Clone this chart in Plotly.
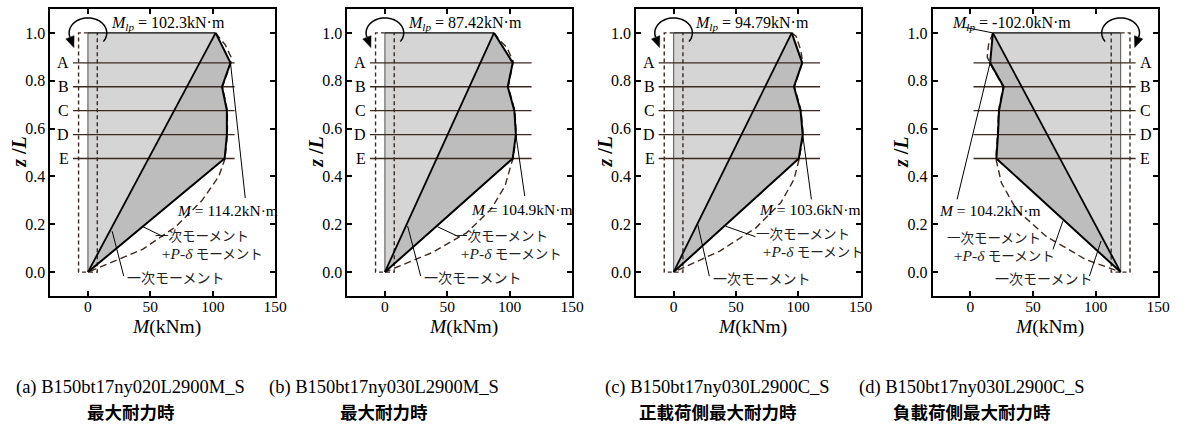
import numpy as np
import plotly.graph_objects as go

W, H = 1187, 432

# ---------------------------------------------------------------- data
SECTION_Z = [0.875, 0.775, 0.675, 0.575, 0.475]
SECTION_NAMES = ["A", "B", "C", "D", "E"]
X_TICKS = [0, 50, 100, 150]
Y_TICKS = [0.0, 0.2, 0.4, 0.6, 0.8, 1.0]

# end moment at the loaded end (z/L = 1), kN·m
MLP = [102.3, 87.42, 94.79, -102.0]

# moment evaluated at gauge sections A-E, kN·m
M_SEC_A = [114.2, 107.4, 111.3, 111.3, 109.5]
M_SEC_B = [102.4, 98.4, 103.7, 104.9, 102.4]
M_SEC_C = [103.2, 96.6, 101.9, 103.6, 100.5]
M_SEC_D = [-104.2, -93.4, -97.1, -97.9, -99.2]
M_SEC = [M_SEC_A, M_SEC_B, M_SEC_C, M_SEC_D]

# section holding the peak moment in each specimen
PEAK_SECTION = [0, 3, 3, 0]

# primary moment + P-delta moment (dashed curve)
PD_Z_A = [1.0, 0.95, 0.90, 0.875, 0.775, 0.675, 0.575, 0.475, 0.40, 0.30, 0.19, 0.095, 0.0]
PD_M_A = [102.3, 110.0, 114.6, 114.5, 107.8, 111.7, 111.7, 109.9, 104.8, 91.5, 70.4, 43.8, 0.0]
PD_Z_B = [1.0, 0.979, 0.937, 0.88, 0.775, 0.675, 0.575, 0.475, 0.457, 0.359, 0.262, 0.164, 0.081, 0.0]
PD_M_B = [87.42, 90.5, 97.9, 102.8, 98.8, 104.1, 105.3, 102.8, 101.5, 96.2, 84.8, 65.4, 37.6, 0.0]
PD_Z_C = [1.0, 0.985, 0.93, 0.88, 0.775, 0.675, 0.575, 0.475, 0.387, 0.29, 0.185, 0.088, 0.0]
PD_M_C = [94.79, 98.4, 101.9, 103.6, 97.0, 102.3, 104.0, 100.9, 96.6, 86.0, 66.1, 37.1, 0.0]
PD_Z_D = [1.0, 0.95, 0.90, 0.875, 0.775, 0.675, 0.575, 0.475, 0.373, 0.262, 0.15, 0.053, 0.0]
PD_M_D = [-102.0, -105.5, -106.5, -104.6, -93.8, -97.5, -98.3, -99.6, -95.2, -83.3, -59.6, -28.0, 0.0]
PD_Z = [PD_Z_A, PD_Z_B, PD_Z_C, PD_Z_D]
PD_M = [PD_M_A, PD_M_B, PD_M_C, PD_M_D]

# half width of the dashed band around the moment origin, kN·m
BAND = 7.5

PANEL_TAGS = ["(a)", "(b)", "(c)", "(d)"]
SPECIMENS = ["B150bt17ny020L2900M_S", "B150bt17ny030L2900M_S",
             "B150bt17ny030L2900C_S", "B150bt17ny030L2900C_S"]
STATES = ["最大耐力時", "最大耐力時", "正載荷側最大耐力時", "負載荷側最大耐力時"]

# ---------------------------------------------------------------- layout
FRAME_X = [(51, 278), (351, 578), (642.7, 869.3), (942.3, 1170)]
FRAME_TOP, FRAME_BOTTOM = 9, 296
X_RANGE = [-30, 150]
Y_RANGE = [-0.1, 1.1]
SX = (FRAME_X[0][1] - FRAME_X[0][0]) / (X_RANGE[1] - X_RANGE[0])   # px per kN·m
SY = (FRAME_BOTTOM - FRAME_TOP) / (Y_RANGE[1] - Y_RANGE[0])        # px per z/L

# placement of labels and leaders (plot coordinates)
POS = [
    dict(base=0, side=1, mlp_text=(16.8, 1.041), mlp_leader=None,
         max_end=(126, 0.31), max_text=(69.5, 0.257),
         pd_leader=((43.9, 0.19), (60.4, 0.148)), pd_t=(52.5, 0.112),
         pr_leader=((19.4, 0.171), (28.7, -0.017)), pr_t=(30, -0.022),
         cap_x=132),
    dict(base=0, side=1, mlp_text=(16.8, 1.041), mlp_leader=None,
         max_end=(112, 0.318), max_text=(67, 0.262),
         pd_leader=((42, 0.19), (59.1, 0.148)), pd_t=(53.8, 0.11),
         pr_leader=((18.2, 0.192), (28.7, -0.017)), pr_t=(30, -0.021),
         cap_x=388),
    dict(base=0, side=1, mlp_text=(15.5, 1.041), mlp_leader=None,
         max_end=(110.6, 0.304), max_text=(67, 0.262),
         pd_leader=((41.6, 0.192), (65.7, 0.148)), pd_t=(64.4, 0.12),
         pr_leader=((19.4, 0.199), (28.7, -0.017)), pr_t=(30, -0.023),
         cap_x=725),
    dict(base=120, side=-1, mlp_text=(-15.9, 1.041), mlp_leader=(-4.0, 1.023),
         max_end=(-10.6, 0.304), max_text=(-26.5, 0.258),
         pd_leader=((73.9, 0.213), (66.0, 0.095)), pd_t=(-19.9, 0.102),
         pr_leader=((104.4, 0.13), (95.1, -0.017)), pr_t=(18.4, -0.023),
         cap_x=982),
]

SERIF = "Liberation Serif"
SERIF_CJK = "Liberation Serif, Noto Sans CJK JP"
CJK = "Noto Sans CJK JP"
LIGHT = "#d5d5d5"
DARK = "#bdbdbd"
BROWN = "#3b2a22"


def fmt(v):
    return f"{v:.1f}" if abs(v) >= 100 else f"{v:.2f}"


fig = go.Figure()
shapes, annotations = [], []


def px_x(p):
    return p / W


def px_y(p):
    return 1 - p / H


for i in range(4):
    xa, ya = ("x", "y") if i == 0 else (f"x{i+1}", f"y{i+1}")
    cfg = POS[i]
    b, s = cfg["base"], cfg["side"]
    mlp = MLP[i]
    msec = M_SEC[i]
    top_x = b + mlp
    sec_x = [b + m for m in msec]

    # shaded areas: left of primary moment line, and between primary and measured
    fig.add_trace(go.Scatter(x=[b, b, top_x, b], y=[0, 1, 1, 0], mode="lines",
                             fill="toself", fillcolor=LIGHT, line=dict(width=0),
                             xaxis=xa, yaxis=ya, hoverinfo="skip"))
    fig.add_trace(go.Scatter(x=[b, top_x] + sec_x + [b], y=[0, 1] + SECTION_Z + [0],
                             mode="lines", fill="toself", fillcolor=DARK,
                             line=dict(width=0), xaxis=xa, yaxis=ya, hoverinfo="skip"))

    # dashed band about the moment origin
    fig.add_trace(go.Scatter(x=[b, b - s * BAND, b - s * BAND, b + s * BAND, b + s * BAND],
                             y=[1, 1, 0, 0, 1], mode="lines",
                             line=dict(color=BROWN, width=1.4, dash="4px,3px"),
                             xaxis=xa, yaxis=ya, hoverinfo="skip"))

    # outline of the origin line and top edge
    fig.add_trace(go.Scatter(x=[b, b], y=[0, 1], mode="lines",
                             line=dict(color="#6a6a6a", width=1.2),
                             xaxis=xa, yaxis=ya, hoverinfo="skip"))
    fig.add_trace(go.Scatter(x=[b, top_x], y=[1, 1], mode="lines",
                             line=dict(color="black", width=1.2),
                             xaxis=xa, yaxis=ya, hoverinfo="skip"))

    # primary + P-delta moment
    fig.add_trace(go.Scatter(x=[b + m for m in PD_M[i]], y=PD_Z[i], mode="lines",
                             line=dict(color=BROWN, width=1.4, dash="7px,4px"),
                             xaxis=xa, yaxis=ya, hoverinfo="skip"))

    # gauge section lines with labels
    for zc, nm in zip(SECTION_Z, SECTION_NAMES):
        fig.add_trace(go.Scatter(x=[b - s * 12, b + s * 117.5], y=[zc, zc], mode="lines",
                                 line=dict(color=BROWN, width=1.3),
                                 xaxis=xa, yaxis=ya, hoverinfo="skip"))
        annotations.append(dict(x=b - s * 13.5, y=zc, xref=xa, yref=ya, text=nm,
                                showarrow=False, xanchor="right" if s > 0 else "left",
                                yanchor="middle",
                                font=dict(family=SERIF, size=16, color="black")))

    # primary moment (straight) and measured moment distribution
    fig.add_trace(go.Scatter(x=[b, top_x], y=[0, 1], mode="lines",
                             line=dict(color="black", width=1.8),
                             xaxis=xa, yaxis=ya, hoverinfo="skip"))
    fig.add_trace(go.Scatter(x=[top_x] + sec_x + [b], y=[1] + SECTION_Z + [0], mode="lines",
                             line=dict(color="black", width=2.0),
                             xaxis=xa, yaxis=ya, hoverinfo="skip"))

    # end-moment rotation symbol
    rx, ry = 19 / SX, 15 / SY
    t = np.radians(np.linspace(-35, 197, 60))
    ax_pts = b + s * rx * np.cos(t)
    ay_pts = 1.0 + ry * np.sin(t)
    path = "M " + " L ".join(f"{x:.4f},{y:.5f}" for x, y in zip(ax_pts, ay_pts))
    shapes.append(dict(type="path", path=path, xref=xa, yref=ya,
                       line=dict(color="black", width=1.5)))
    te = t[-1]
    ex, ey = s * 19 * np.cos(te), 15 * np.sin(te)          # px, y up
    tx, ty = -s * 19 * np.sin(te), 15 * np.cos(te)
    nrm = np.hypot(tx, ty)
    tx, ty = tx / nrm, ty / nrm
    nx, ny = -ty, tx
    tip = (ex + 11 * tx, ey + 11 * ty)
    c1 = (ex + 4.5 * nx, ey + 4.5 * ny)
    c2 = (ex - 4.5 * nx, ey - 4.5 * ny)
    tri = [(b + px_ / SX, 1.0 + py_ / SY) for px_, py_ in (tip, c1, c2)]
    shapes.append(dict(type="path", xref=xa, yref=ya,
                       path="M {0},{1} L {2},{3} L {4},{5} Z".format(
                           tri[0][0], tri[0][1], tri[1][0], tri[1][1], tri[2][0], tri[2][1]),
                       fillcolor="black", line=dict(color="black", width=0.5)))

    # end moment label
    mx, my = cfg["mlp_text"]
    annotations.append(dict(x=mx, y=my, xref=xa, yref=ya, xanchor="left", yanchor="middle",
                            showarrow=False,
                            text=f"<i>M</i><sub><i>lp</i></sub> = {fmt(mlp)}kN·m",
                            font=dict(family=SERIF, size=16, color="black")))
    if cfg["mlp_leader"] is not None:
        lx, ly = cfg["mlp_leader"]
        shapes.append(dict(type="line", xref=xa, yref=ya, x0=lx, y0=ly, x1=top_x, y1=1.0,
                           line=dict(color="black", width=1)))

    # peak moment label and leader
    k = PEAK_SECTION[i]
    ex_, ey_ = cfg["max_end"]
    shapes.append(dict(type="line", xref=xa, yref=ya, x0=sec_x[k], y0=SECTION_Z[k],
                       x1=ex_, y1=ey_, line=dict(color="black", width=1)))
    annotations.append(dict(x=cfg["max_text"][0], y=cfg["max_text"][1], xref=xa, yref=ya,
                            xanchor="left", yanchor="middle", showarrow=False,
                            text=f"<i>M</i> = {abs(msec[k]):.1f}kN·m",
                            font=dict(family=SERIF, size=15.5, color="black")))

    # curve labels
    (p0, p1) = cfg["pd_leader"]
    shapes.append(dict(type="line", xref=xa, yref=ya, x0=p0[0], y0=p0[1], x1=p1[0], y1=p1[1],
                       line=dict(color="black", width=1)))
    annotations.append(dict(x=cfg["pd_t"][0], y=cfg["pd_t"][1], xref=xa, yref=ya,
                            xanchor="left", yanchor="middle", showarrow=False, align="left",
                            text=("一次モーメント<br>&nbsp;&nbsp;"
                                  "<span style='font-size:15.5px'>+<i>P</i>-<i>δ</i></span>"
                                  " モーメント"),
                            font=dict(family=SERIF_CJK, size=13.5, color="#222222")))
    (q0, q1) = cfg["pr_leader"]
    shapes.append(dict(type="line", xref=xa, yref=ya, x0=q0[0], y0=q0[1], x1=q1[0], y1=q1[1],
                       line=dict(color="black", width=1)))
    annotations.append(dict(x=cfg["pr_t"][0], y=cfg["pr_t"][1], xref=xa, yref=ya,
                            xanchor="left", yanchor="middle", showarrow=False,
                            text="一次モーメント",
                            font=dict(family=CJK, size=14, color="#222222")))

    # axis titles
    fx0, fx1 = FRAME_X[i]
    annotations.append(dict(x=px_x((fx0 + fx1) / 2 + 4), y=px_y(327), xref="paper", yref="paper",
                            showarrow=False, xanchor="center", yanchor="middle",
                            text="<i>M</i>(kNm)",
                            font=dict(family=SERIF, size=19.5, color="black")))
    annotations.append(dict(x=px_x(fx0 - 32), y=px_y(152), xref="paper", yref="paper",
                            showarrow=False, xanchor="center", yanchor="middle", textangle=-90,
                            text="<b><i>z</i> /<i>L</i></b>",
                            font=dict(family=SERIF, size=20, color="black")))

    # captions
    annotations.append(dict(x=px_x(cfg["cap_x"]), y=px_y(387), xref="paper", yref="paper",
                            showarrow=False, xanchor="center", yanchor="middle",
                            text=f"{PANEL_TAGS[i]} {SPECIMENS[i]}",
                            font=dict(family=SERIF, size=18.5, color="black")))
    annotations.append(dict(x=px_x(cfg["cap_x"]), y=px_y(411), xref="paper", yref="paper",
                            showarrow=False, xanchor="center", yanchor="middle",
                            text=f"<b>{STATES[i]}</b>",
                            font=dict(family=CJK, size=17.5, color="black")))

axis_common = dict(showline=True, linewidth=2, linecolor="black", mirror="ticks",
                   ticks="inside", ticklen=5, tickwidth=2, tickcolor="black",
                   showgrid=False, zeroline=False)

layout = dict(width=W, height=H, margin=dict(l=0, r=0, t=0, b=0),
              paper_bgcolor="white", plot_bgcolor="white", showlegend=False,
              shapes=shapes, annotations=annotations)
for i in range(4):
    fx0, fx1 = FRAME_X[i]
    xk = "xaxis" if i == 0 else f"xaxis{i+1}"
    yk = "yaxis" if i == 0 else f"yaxis{i+1}"
    ya = "y" if i == 0 else f"y{i+1}"
    xa = "x" if i == 0 else f"x{i+1}"
    layout[xk] = dict(axis_common, range=X_RANGE, tickvals=X_TICKS, ticklabelstandoff=-5,
                      tickfont=dict(family=SERIF, size=15.5, color="black"),
                      domain=[fx0 / W, fx1 / W], anchor=ya)
    layout[yk] = dict(axis_common, range=Y_RANGE, tickvals=Y_TICKS, tickformat=".1f",
                      tickfont=dict(family=SERIF, size=16, color="black"),
                      domain=[1 - FRAME_BOTTOM / H, 1 - FRAME_TOP / H], anchor=xa)

fig.update_layout(**layout)
fig.write_html("out.html")
